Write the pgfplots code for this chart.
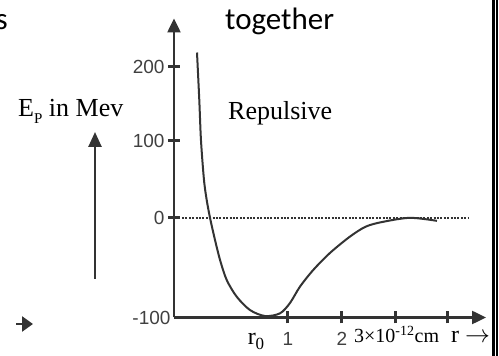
\documentclass[border=0pt]{standalone}
\usepackage{fontspec}
\usepackage{pgfplots}
\pgfplotsset{compat=1.18}
\usetikzlibrary{arrows.meta}
\setmainfont{Liberation Serif}
\newfontfamily\sansf{Liberation Sans}
\newfontfamily\calib{Carlito}
\definecolor{axc}{HTML}{333333}
\definecolor{curc}{HTML}{333333}
\definecolor{tkc}{HTML}{404040}

\begin{document}
\begin{tikzpicture}[x=1pt,y=1pt]
  \useasboundingbox (0,0) rectangle (499,356);
  \clip (0,0) rectangle (499,356);
  \begin{axis}[
      at={(174pt,38.5pt)}, anchor=south west,
      scale only axis, width=312pt, height=299pt,
      xmin=-1.111, xmax=4.667, ymin=-129.2, ymax=258.4,
      axis lines=left,
      axis line style={line width=2.5pt, draw=axc, -{Triangle[length=14pt,width=13pt]}},
      tick align=center, major tick length=12pt,
      tick style={line width=3pt, draw=axc},
      xtick={1,2,3,3.963}, xticklabels={1,2,,},
      ytick={0,100,196}, yticklabels={0,100,200},
      extra y ticks={-129.2}, extra y tick labels={-100},
      extra y tick style={major tick length=0pt},
      ticklabel style={font=\sansf\fontsize{19}{19}\selectfont, text=tkc},
      xticklabel style={yshift=-5pt},
      clip=false,
    ]
    \addplot[line width=2.4pt, draw=axc, dash pattern=on 2pt off 1.4pt]
      coordinates {(-0.963,0) (4.352,0)};
    \addplot[smooth, tension=0.5, line width=2pt, draw=curc]
      coordinates {(-0.685,214.3) (-0.643,153.2) (-0.611,100) (-0.556,49.4)
                   (-0.506,23.4) (-0.444,0) (-0.352,-28.6) (-0.259,-54.5)
                   (-0.135,-80.5) (0.05,-102.2) (0.296,-119.5) (0.574,-127.3)
                   (0.852,-123.8) (1.037,-110.4) (1.222,-89.2) (1.469,-67.5)
                   (1.778,-45.5) (2.148,-24.3) (2.444,-11.3) (2.759,-5.2)
                   (3.259,0) (3.759,-3.9)};
  \end{axis}
  % loose text around the chart
  \node[anchor=base east, inner sep=0pt, font=\calib\fontsize{31}{31}\selectfont] at (8,326) {s};
  \node[anchor=base west, inner sep=0pt, font=\calib\fontsize{31}{31}\selectfont] at (225,326) {together};
  \node[anchor=base west, inner sep=0pt, font=\fontsize{26}{26}\selectfont] at (18,239)
    {E\raisebox{-0.25em}{\fontsize{15}{15}\selectfont P} in Mev};
  \node[anchor=base west, inner sep=0pt, font=\fontsize{26}{26}\selectfont] at (228,236) {Repulsive};
  \draw[line width=2.5pt, axc, -{Triangle[length=15pt,width=13pt]}] (95,77) -- (95,224);
  \draw[line width=2.5pt, axc, -{Triangle[length=11pt,width=15pt]}] (16,32) -- (33,32);
  \node[anchor=base, inner sep=0pt, font=\fontsize{24}{24}\selectfont] at (256,11)
    {r\raisebox{-5pt}{\fontsize{17}{17}\selectfont 0}};
  \node[anchor=base west, inner sep=0pt, font=\fontsize{20}{20}\selectfont] at (354,13)
    {3\texttimes10\textsuperscript{-12}cm};
  \node[anchor=base west, inner sep=0pt, font=\fontsize{24}{24}\selectfont] at (451,13) {r \(\rightarrow\)};
  \draw[line width=2.5pt] (493.5,0) -- (493.5,356);
  \draw[line width=1.5pt] (497.2,0) -- (497.2,356);
\end{tikzpicture}
\end{document}
